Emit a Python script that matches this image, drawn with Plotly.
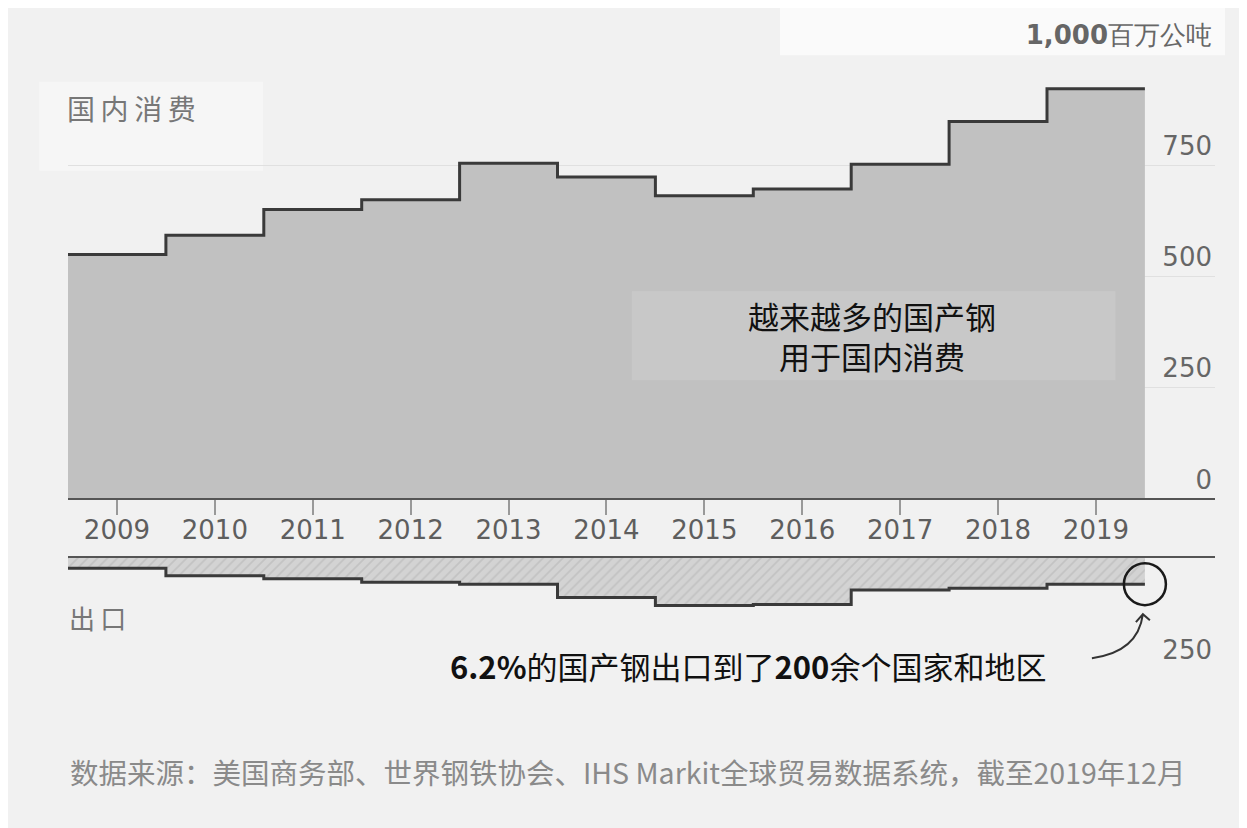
import plotly.graph_objects as go

# ---- data ----
years = [2009, 2010, 2011, 2012, 2013, 2014, 2015, 2016, 2017, 2018, 2019]
consumption = [549, 592, 650, 672, 754, 723, 681, 696, 752, 848, 922]   # 百万公吨
exports = [23, 40, 47, 55, 59, 89, 107, 105, 72, 68, 59]                # 百万公吨
top_ticks = [0, 250, 500, 750, 1000]
top_ticktext = ["0", "250", "500", "750", "<b>1,000</b>百万公吨"]
bottom_ticks = [250]
bottom_ticktext = ["250"]

# step edges centred on each year
x_edges = [y - 0.5 for y in years] + [years[-1] + 0.5]
cons_steps = consumption + [consumption[-1]]
exp_steps = exports + [exports[-1]]

CJK = "Noto Sans CJK SC"
LAT = "DejaVu Sans"
BG = "#f1f1f1"

fig = go.Figure()

fig.add_trace(go.Scatter(
    x=x_edges, y=cons_steps, mode="lines", line_shape="hv",
    line=dict(color="#3a3a3a", width=3),
    fill="tozeroy", fillcolor="#c1c1c1",
    xaxis="x", yaxis="y", hoverinfo="skip", showlegend=False))

fig.add_trace(go.Scatter(
    x=x_edges, y=exp_steps, mode="lines", line_shape="hv",
    line=dict(color="#3a3a3a", width=3),
    fill="tozeroy",
    fillpattern=dict(shape="/", bgcolor="#d3d3d3", fgcolor="#b2b2b2", size=7, solidity=0.25),
    xaxis="x2", yaxis="y2", hoverinfo="skip", showlegend=False))

xr = [2008.5, 2008.5 + 1147 / 97.9]

fig.update_layout(
    width=1239, height=820,
    margin=dict(l=60, r=32, t=41, b=159),
    paper_bgcolor=BG, plot_bgcolor="rgba(0,0,0,0)",
    xaxis=dict(range=xr, anchor="y", tickmode="array", tickvals=years,
               ticktext=[str(y) for y in years],
               showline=True, linecolor="#555555", linewidth=2,
               ticks="outside", ticklen=15, tickwidth=1.5, tickcolor="#999999",
               ticklabelstandoff=-8,
               tickfont=dict(family=LAT, size=26, color="#5e5e5e"),
               showgrid=False, zeroline=False, fixedrange=True),
    yaxis=dict(domain=[0.2774, 1], range=[0, 1000], side="right",
               tickmode="array", tickvals=top_ticks, ticktext=top_ticktext,
               ticklabelposition="inside", ticklabelshift=-19, ticklabeloverflow="allow",
               tickfont=dict(family=LAT, size=26, color="#666666"),
               showgrid=True, gridcolor="#e0e0e0", gridwidth=1,
               zeroline=False, showline=False, ticks=""),
    xaxis2=dict(range=xr, anchor="y2", side="top", showline=True,
                linecolor="#555555", linewidth=2, showticklabels=False,
                ticks="", showgrid=False, zeroline=False),
    yaxis2=dict(domain=[0, 0.1806], range=[250, 0], side="right",
                tickmode="array", tickvals=bottom_ticks, ticktext=bottom_ticktext,
                ticklabelposition="inside", ticklabelshift=19, ticklabeloverflow="allow",
                tickfont=dict(family=LAT, size=26, color="#666666"),
                showgrid=True, gridcolor="#e0e0e0", gridwidth=1,
                zeroline=False, showline=False, ticks=""),
)

shapes = [
    # white band behind the unit label
    dict(type="rect", xref="paper", yref="paper", x0=0.6208, x1=1.0087, y0=0.998, y1=1.079,
         fillcolor="#fafafa", line=dict(width=0), layer="below"),
    # lighter box behind 国内消费
    dict(type="rect", xref="paper", yref="paper", x0=-0.025, x1=0.17, y0=0.81, y1=0.955,
         fillcolor="#f6f6f6", line=dict(width=0), layer="below"),
    # annotation box in upper panel
    dict(type="rect", xref="x", yref="y", x0=2014.26, x1=2019.2, y0=266, y1=466,
         fillcolor="#c8c8c8", line=dict(width=0), layer="above"),
    # circle around the last export value
    dict(type="circle", xref="x2", yref="y2", xsizemode="pixel", ysizemode="pixel",
         xanchor=years[-1] + 0.5, yanchor=exports[-1], x0=-21, x1=21, y0=-21, y1=21,
         line=dict(color="#1a1a1a", width=2.5)),
    # curved arrow pointing to the circle
    dict(type="path", xref="x2", yref="y2", xsizemode="pixel", ysizemode="pixel",
         xanchor=years[-1] + 0.5, yanchor=exports[-1],
         path="M-53,-74 Q-7,-68 -2,-30 M-9,-38 L-2,-30 L5,-36",
         line=dict(color="#333333", width=2)),
]
fig.update_layout(shapes=shapes)

annotations = [
    dict(text="越来越多的国产钢<br>用于国内消费", xref="x", yref="y", x=2016.71, y=366,
         showarrow=False, font=dict(family=CJK, size=31, color="#111111"), align="center"),
    dict(text="国\u2009内\u2009消\u2009费", xref="paper", yref="paper", x=-0.0026, y=0.9129,
         xanchor="left", yanchor="middle", showarrow=False,
         font=dict(family=CJK, size=28, color="#777777")),
    dict(text="出\u2009口", xref="paper", yref="paper", x=-0.001, y=0.0839,
         xanchor="left", yanchor="middle", showarrow=False,
         font=dict(family=CJK, size=26, color="#777777")),
    dict(text="<b>6.2%</b>的国产钢出口到了<b>200</b>余个国家和地区", xref="paper", yref="paper",
         x=0.5929, y=0.0065, xanchor="center", yanchor="middle", showarrow=False,
         font=dict(family=CJK, size=31, color="#111111")),
    dict(text="数据来源：美国商务部、世界钢铁协会、IHS Markit全球贸易数据系统，截至2019年12月",
         xref="paper", yref="paper", x=0.0, y=-0.166, xanchor="left", yanchor="middle",
         showarrow=False, font=dict(family=CJK, size=28.5, color="#8a8a8a")),
]
fig.update_layout(annotations=annotations)

fig.write_html("out.html")
